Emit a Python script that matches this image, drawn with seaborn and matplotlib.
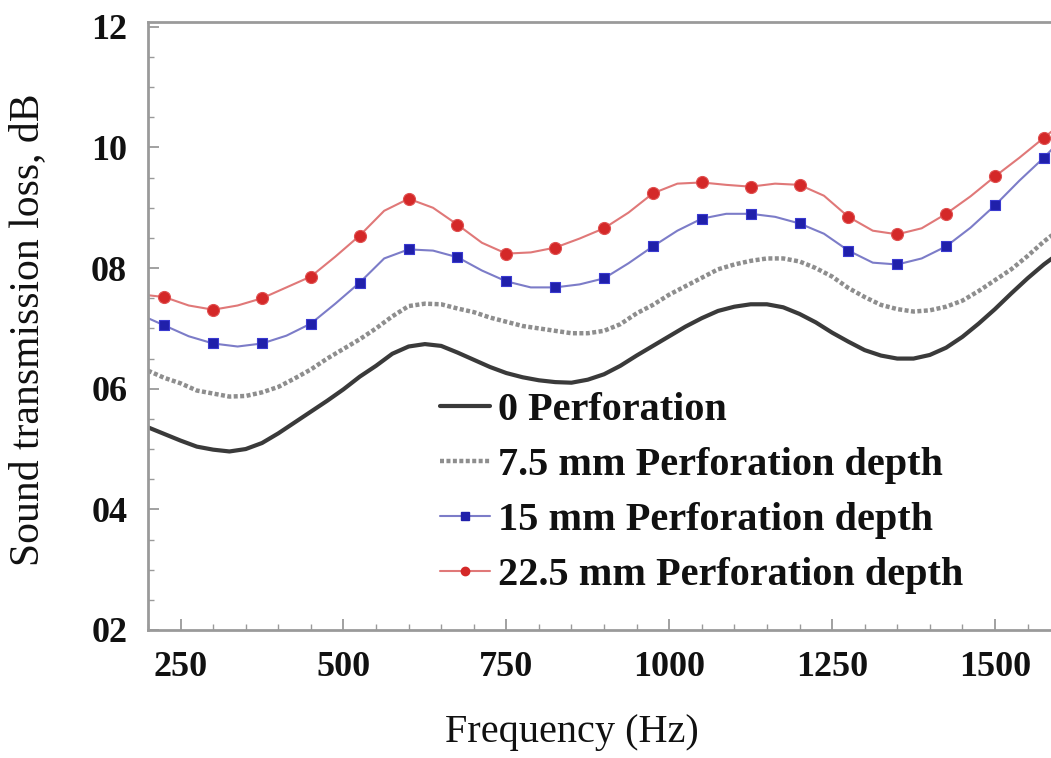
import numpy as np
import pandas as pd
import matplotlib
matplotlib.use("Agg")
import matplotlib.pyplot as plt
from matplotlib.lines import Line2D
from matplotlib.ticker import MultipleLocator, FuncFormatter
import seaborn as sns

# Unmarked curves, sampled every 25 Hz
grid_hz = list(range(200, 1601, 25))
no_perf_db = [5.36, 5.25, 5.14, 5.04, 4.99, 4.96, 5.00, 5.10, 5.26, 5.44,
              5.62, 5.80, 5.99, 6.20, 6.38, 6.58, 6.70, 6.74, 6.71, 6.60,
              6.48, 6.36, 6.26, 6.19, 6.14, 6.11, 6.10, 6.15, 6.24, 6.38,
              6.55, 6.71, 6.87, 7.03, 7.17, 7.29, 7.36, 7.40, 7.40, 7.35,
              7.24, 7.10, 6.93, 6.78, 6.64, 6.55, 6.50, 6.50, 6.56, 6.68,
              6.86, 7.08, 7.32, 7.58, 7.83, 8.06, 8.26]
perf_7_5_db = [6.30, 6.18, 6.09, 5.97, 5.92, 5.87, 5.88, 5.94, 6.03, 6.17,
               6.32, 6.50, 6.66, 6.82, 7.00, 7.20, 7.37, 7.41, 7.40, 7.33,
               7.27, 7.18, 7.11, 7.04, 7.00, 6.96, 6.92, 6.92, 6.96, 7.07,
               7.25, 7.39, 7.56, 7.70, 7.84, 7.98, 8.06, 8.12, 8.16, 8.16,
               8.11, 8.00, 7.86, 7.67, 7.52, 7.39, 7.32, 7.28, 7.30, 7.36,
               7.46, 7.62, 7.80, 7.98, 8.20, 8.44, 8.65]

# Marked curves: values every 37.5 Hz from 225 to 1575 Hz (markers on every
# other point, i.e. every 75 Hz), plus the band edges at 200 and 1600 Hz
marked_hz = [200.0] + [225 + 37.5 * i for i in range(37)] + [1600.0]
perf_15_db = [7.17,
              7.05, 6.87, 6.75, 6.70, 6.75, 6.88, 7.08, 7.41, 7.76, 8.16,
              8.31, 8.29, 8.18, 7.96, 7.78, 7.68, 7.68, 7.73, 7.83, 8.08,
              8.36, 8.62, 8.82, 8.90, 8.90, 8.85, 8.74, 8.57, 8.29, 8.09,
              8.06, 8.16, 8.36, 8.67, 9.04, 9.45, 9.83,
              10.11]
perf_22_5_db = [7.55,
                7.52, 7.38, 7.31, 7.38, 7.50, 7.68, 7.86, 8.19, 8.54, 8.95,
                9.15, 9.00, 8.72, 8.42, 8.24, 8.26, 8.34, 8.49, 8.66, 8.92,
                9.24, 9.40, 9.42, 9.38, 9.35, 9.40, 9.38, 9.20, 8.85, 8.62,
                8.56, 8.66, 8.90, 9.19, 9.52, 9.83, 10.16,
                10.38]

labels = ["0 Perforation", "7.5 mm Perforation depth",
          "15 mm Perforation depth", "22.5 mm Perforation depth"]
x_ticks = [250, 500, 750, 1000, 1250, 1500]
y_ticks = [2, 4, 6, 8, 10, 12]

BLACK, GRAY = "#3a3a3a", "#8e8e8e"
BLUE_LINE, BLUE_MK = "#7c7cc8", "#2020aa"
RED_LINE, RED_MK = "#e07878", "#d42828"
DOTS = (0, (0.9, 0.55))

sns.set_theme(style="white")
plt.rcParams["font.family"] = ["Liberation Serif", "DejaVu Serif"]

fig = plt.figure(figsize=(10.51, 7.58), dpi=100)
ax = fig.add_axes([148 / 1051, 1 - 630 / 758, 1 - 148 / 1051, (630 - 22) / 758])

smooth = pd.DataFrame({"hz": grid_hz, "none": no_perf_db, "p75": perf_7_5_db})
marked = pd.DataFrame({"hz": marked_hz, "p15": perf_15_db, "p225": perf_22_5_db})
pts = marked.iloc[1:-1].iloc[::2]

sns.lineplot(data=smooth, x="hz", y="none", ax=ax, color=BLACK, lw=3.0)
sns.lineplot(data=smooth, x="hz", y="p75", ax=ax, color=GRAY, lw=3.2, linestyle=DOTS)
sns.lineplot(data=marked, x="hz", y="p15", ax=ax, color=BLUE_LINE, lw=1.5)
sns.lineplot(data=marked, x="hz", y="p225", ax=ax, color=RED_LINE, lw=1.5)
sns.scatterplot(data=pts, x="hz", y="p15", ax=ax, marker="s", s=50,
                color=BLUE_MK, edgecolor="#3a3ad0", linewidth=0.8, zorder=5)
sns.scatterplot(data=pts, x="hz", y="p225", ax=ax, marker="o", s=75,
                color=RED_MK, edgecolor="#e05050", linewidth=0.8, zorder=5)

ax.set_xlim(200, 1586)
ax.set_ylim(2, 12.08)
ax.set_xticks(x_ticks)
ax.set_yticks(y_ticks)
ax.xaxis.set_minor_locator(MultipleLocator(50))
ax.yaxis.set_minor_locator(MultipleLocator(0.5))
ax.yaxis.set_major_formatter(FuncFormatter(lambda v, p: f"{int(round(v)):02d}"))

for side in ["left", "top", "bottom"]:
    ax.spines[side].set_color("#9a9a9a")
    ax.spines[side].set_linewidth(2.0)
ax.spines["right"].set_visible(False)

ax.tick_params(axis="both", which="both", bottom=True, left=True, top=False,
               right=False, direction="in", color="#9a9a9a")
ax.tick_params(axis="both", which="major", length=8, width=1.3,
               labelsize=26, labelcolor="#111111")
ax.tick_params(axis="both", which="minor", length=4.5, width=1.0)
ax.tick_params(axis="x", which="both", pad=15)
ax.tick_params(axis="y", which="both", pad=15)
for t in ax.get_xticklabels() + ax.get_yticklabels():
    t.set_fontweight("bold")

ax.set_xlabel("Frequency (Hz)", fontsize=29, color="#111111")
ax.set_ylabel("Sound transmission loss, dB", fontsize=30, color="#111111")
ax.xaxis.set_label_coords((572 - 148) / 903, (630 - 714) / 608)
ax.yaxis.set_label_coords((47 - 148) / 903, (630 - 330) / 608)

handles = [
    Line2D([], [], color=BLACK, lw=3.0),
    Line2D([], [], color=GRAY, lw=3.2, linestyle=DOTS),
    Line2D([], [], color=BLUE_LINE, lw=1.5, marker="s", markersize=6,
           markerfacecolor=BLUE_MK, markeredgecolor=BLUE_MK),
    Line2D([], [], color=RED_LINE, lw=1.5, marker="o", markersize=6,
           markerfacecolor=RED_MK, markeredgecolor=RED_MK),
]
leg = ax.legend(handles, labels, loc="upper left",
                bbox_to_anchor=((440 - 148) / 903, (630 - 392) / 608),
                frameon=False, fontsize=29, handlelength=1.25, handletextpad=0.2,
                labelspacing=0.44, borderaxespad=0, borderpad=0)
for t in leg.get_texts():
    t.set_fontweight("bold")
    t.set_color("#111111")

fig.savefig("out.png", dpi=100)
